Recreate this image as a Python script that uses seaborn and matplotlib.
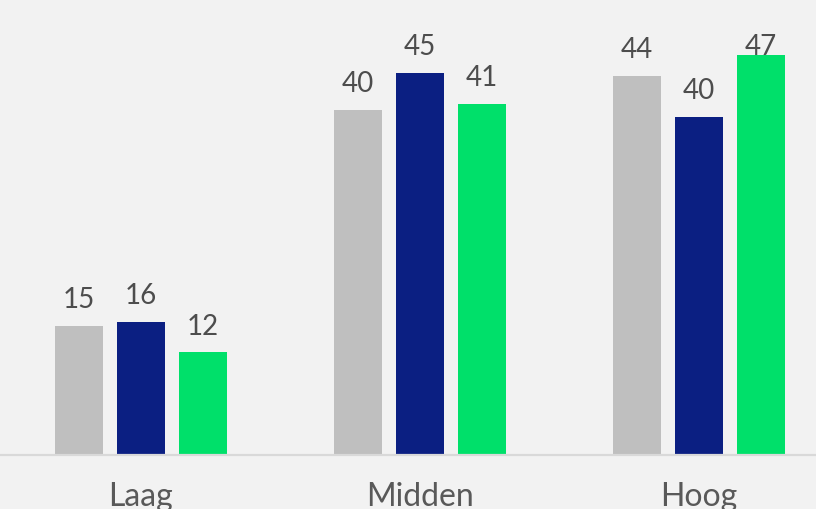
import matplotlib
matplotlib.use("Agg")
import matplotlib.pyplot as plt
import seaborn as sns
import pandas as pd

categories = ["Laag", "Midden", "Hoog"]
series = ["Serie 1", "Serie 2", "Serie 3"]
serie1 = [15.1, 40.4, 44.4]
serie2 = [15.6, 44.7, 39.6]
serie3 = [12.0, 41.1, 46.8]
colors = ["#bfbfbf", "#0b1f82", "#00e06a"]

rows = []
for s, vals in zip(series, [serie1, serie2, serie3]):
    for c, v in zip(categories, vals):
        rows.append({"groep": c, "serie": s, "waarde": v})
df = pd.DataFrame(rows)

sns.set_theme(style="white")
plt.rcParams["font.family"] = ["Lato", "DejaVu Sans"]

bg = "#f2f2f2"
fig = plt.figure(figsize=(8.16, 5.10), dpi=100, facecolor=bg)
ax = fig.add_axes([0, 0.1059, 1, 0.8941])
ax.set_facecolor(bg)

sns.barplot(data=df, x="groep", y="waarde", hue="serie", order=categories,
            hue_order=series, palette=colors, width=0.667, gap=0.226,
            saturation=1, legend=False, ax=ax, errorbar=None, linewidth=0)

ax.set_xlim(-0.505, 2.419)
ax.set_ylim(0, 53.36)
for sp in ax.spines.values():
    sp.set_visible(False)
ax.axhline(0, color="#d9d9d9", lw=1.6, clip_on=False)
ax.set_yticks([])
ax.set_xlabel("")
ax.set_ylabel("")
ax.tick_params(axis="x", length=0, pad=19, labelsize=23, labelcolor="#595959")

for i, cont in enumerate(ax.containers):
    texts = ax.bar_label(cont, fmt="%.0f", padding=10, fontsize=20,
                         color="#4d4d4d")
    if i == 2:
        texts[2].xyann = (0, -3)

fig.savefig("out.png", dpi=100, facecolor=bg)
